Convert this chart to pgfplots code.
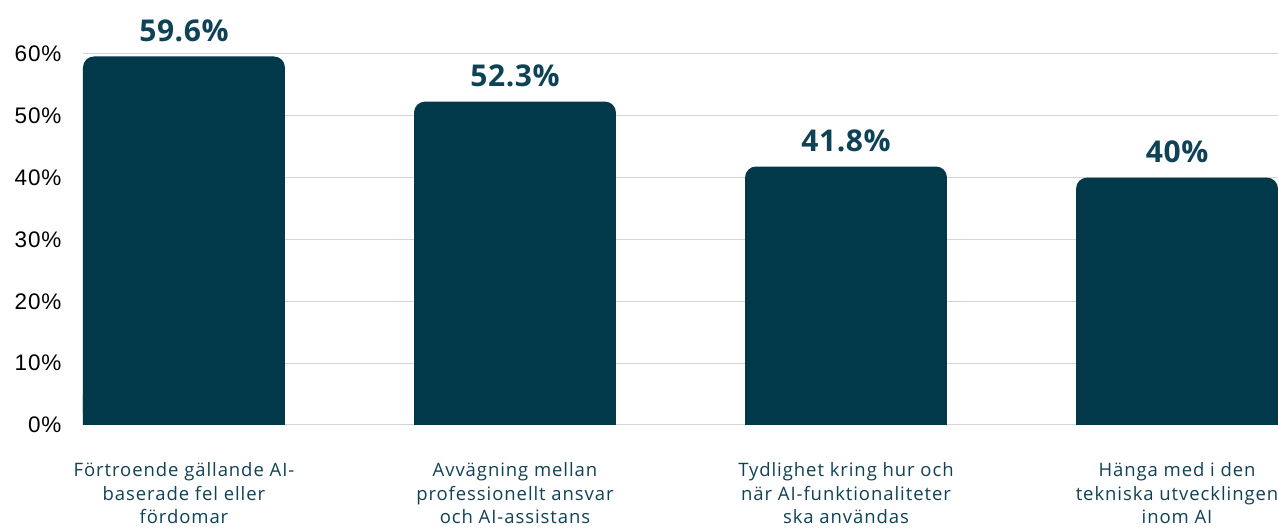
\documentclass[border=0pt]{standalone}
\usepackage{fontspec}
\setmainfont{Open Sans}
\newfontfamily\catfont[LetterSpace=5]{Open Sans}
\newfontfamily\valfont[LetterSpace=2]{Open Sans}
\newfontfamily\tickfont[LetterSpace=4]{Liberation Sans}
\usepackage{pgfplots}
\pgfplotsset{compat=1.18}
\definecolor{barc}{RGB}{2,57,74}
\definecolor{labc}{RGB}{14,66,86}
\definecolor{gridc}{RGB}{212,212,212}
\begin{document}
\begin{tikzpicture}[x=1bp,y=1bp]
\begin{axis}[
  at={(0,0)}, anchor=south west,
  width=1195bp, height=371bp, scale only axis,
  xmin=-0.305, xmax=3.305, ymin=0, ymax=60,
  /pgf/number format/assume math mode=true,
  ytick={0,10,...,60},
  yticklabel={\pgfmathprintnumber{\tick}\%},
  yticklabel style={font=\tickfont\fontsize{22.5bp}{24bp}\selectfont, text=black, xshift=-18bp},
  ymajorgrids, grid style={gridc, line width=1bp},
  axis line style={draw=none},
  major tick style={draw=none},
  xtick={0,1,2,3},
  xticklabels={{Förtroende gällande AI-\\baserade fel eller\\fördomar},
               {Avvägning mellan\\professionellt ansvar\\och AI-assistans},
               {Tydlighet kring hur och\\när AI-funktionaliteter\\ska användas},
               {Hänga med i den\\tekniska utvecklingen\\inom AI}},
  xticklabel style={align=center, font=\catfont\fontsize{18.5bp}{23.5bp}\selectfont, text=labc, yshift=-34bp},
  clip=false,
]
\addplot[ybar, bar width=0.61, bar shift=0pt, fill=barc, draw=none, rounded corners=11bp,
  nodes near coords={\pgfmathprintnumber{\pgfplotspointmeta}\%},
  nodes near coords style={font=\valfont\bfseries\fontsize{30bp}{32bp}\selectfont, text=labc, anchor=south, yshift=11bp}]
  coordinates {(0,59.6) (1,52.3) (2,41.8) (3,40)};
\addplot[ybar, bar width=0.61, bar shift=0pt, fill=barc, draw=none]
  coordinates {(0,5) (1,5) (2,5) (3,5)};
\end{axis}
\pgfresetboundingbox
\path (-83,-106) rectangle (1195,425);
\end{tikzpicture}
\end{document}
